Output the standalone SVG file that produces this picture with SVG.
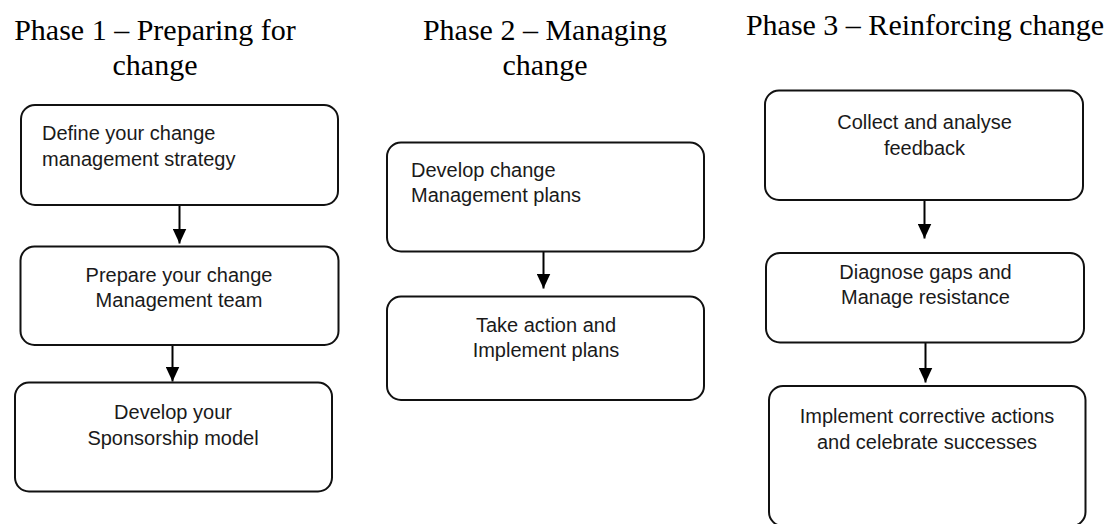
<svg xmlns="http://www.w3.org/2000/svg" width="1114" height="524" viewBox="0 0 1114 524">
<style>
.box{fill:#fff;stroke:#111;stroke-width:2}
.t{font-family:"Liberation Sans",Arial,sans-serif;font-size:20px;fill:#1a1a1a}
.c{text-anchor:middle}
.h{font-family:"Liberation Serif","Times New Roman",serif;font-size:30px;fill:#000;text-anchor:middle}
.conn{stroke:#000;stroke-width:2;fill:none}
</style>
<defs>
<marker id="ah" markerUnits="userSpaceOnUse" markerWidth="15" markerHeight="14" refX="15" refY="7" orient="auto">
<path d="M0,0 L15,7 L0,14 z" fill="#000"/>
</marker>
</defs>
<rect width="1114" height="524" fill="#fff"/>
<g id="headings">
<text class="h" x="155" y="40">Phase 1 – Preparing for</text>
<text class="h" x="155" y="75">change</text>
<text class="h" x="545" y="40">Phase 2 – Managing</text>
<text class="h" x="545" y="75">change</text>
<text class="h" x="925" y="35">Phase 3 – Reinforcing change</text>
</g>
<g id="connectors">
<line class="conn" x1="179.5" y1="205" x2="179.5" y2="243.5" marker-end="url(#ah)"/>
<line class="conn" x1="172.5" y1="345" x2="172.5" y2="381.5" marker-end="url(#ah)"/>
<line class="conn" x1="543.5" y1="251.5" x2="543.5" y2="288.5" marker-end="url(#ah)"/>
<line class="conn" x1="924.5" y1="200" x2="924.5" y2="238.5" marker-end="url(#ah)"/>
<line class="conn" x1="925.5" y1="342.5" x2="925.5" y2="382.5" marker-end="url(#ah)"/>
</g>
<g id="p1n1">
<rect class="box" x="21" y="105" width="317" height="100" rx="14"/>
<text class="t" x="42" y="140">Define your change</text>
<text class="t" x="42" y="165.5">management strategy</text>
</g>
<g id="p1n2">
<rect class="box" x="20.5" y="246.5" width="318" height="98.5" rx="14"/>
<text class="t c" x="179" y="281.5">Prepare your change</text>
<text class="t c" x="179" y="307">Management team</text>
</g>
<g id="p1n3">
<rect class="box" x="15" y="382.5" width="317" height="109" rx="14"/>
<text class="t c" x="173" y="419">Develop your</text>
<text class="t c" x="173" y="444.5">Sponsorship model</text>
</g>
<g id="p2n1">
<rect class="box" x="387" y="142.5" width="317" height="109" rx="14"/>
<text class="t" x="411" y="176.5">Develop change</text>
<text class="t" x="411" y="202">Management plans</text>
</g>
<g id="p2n2">
<rect class="box" x="387" y="296.5" width="317" height="103.5" rx="14"/>
<text class="t c" x="546" y="331.5">Take action and</text>
<text class="t c" x="546" y="357">Implement plans</text>
</g>
<g id="p3n1">
<rect class="box" x="765" y="90.5" width="318" height="109.5" rx="14"/>
<text class="t c" x="924.5" y="129">Collect and analyse</text>
<text class="t c" x="924.5" y="154.5">feedback</text>
</g>
<g id="p3n2">
<rect class="box" x="766" y="253" width="318" height="89.5" rx="14"/>
<text class="t c" x="925.5" y="278.5">Diagnose gaps and</text>
<text class="t c" x="925.5" y="304">Manage resistance</text>
</g>
<g id="p3n3">
<rect class="box" x="769" y="386" width="316.5" height="140" rx="14"/>
<text class="t c" x="927" y="423">Implement corrective actions</text>
<text class="t c" x="927" y="448.5">and celebrate successes</text>
</g>
</svg>
